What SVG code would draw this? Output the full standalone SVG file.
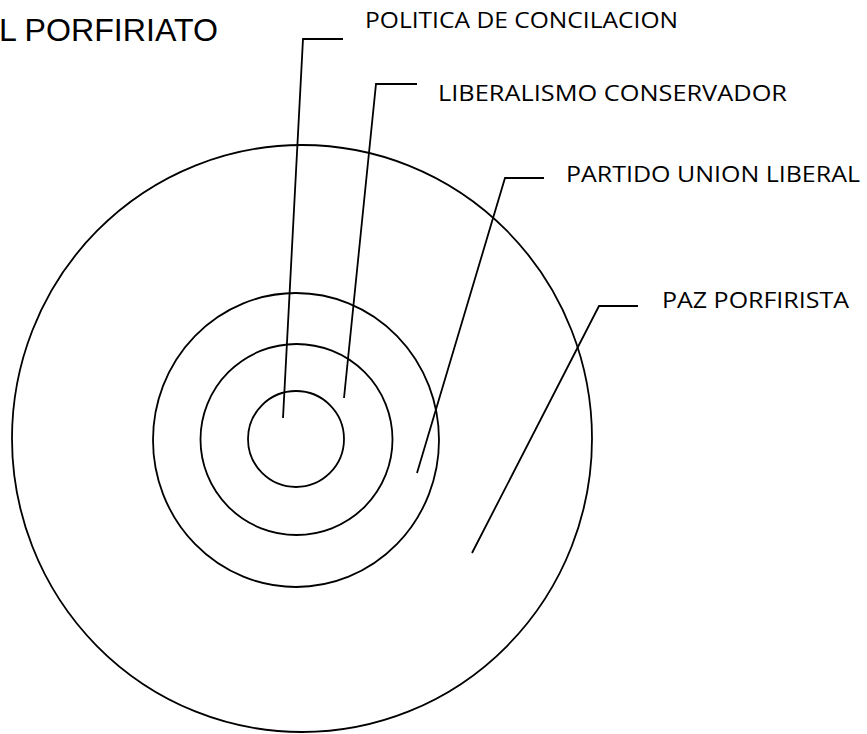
<svg xmlns="http://www.w3.org/2000/svg" width="867" height="734" viewBox="0 0 867 734">
<style>
.c{fill:none;stroke:#000;stroke-width:1.8}
.l{fill:none;stroke:#000;stroke-width:1.8}
.t{font-family:"Open Sans","Noto Sans",sans-serif;font-size:22.5px;fill:#000}
.h{font-family:"Liberation Sans",Arial,sans-serif;font-size:32px;fill:#000}
</style>
<rect width="867" height="734" fill="#fff"/>
<text class="h" x="-1" y="41" textLength="219" lengthAdjust="spacingAndGlyphs">L PORFIRIATO</text>
<g id="paz"><ellipse class="c" cx="302" cy="438.5" rx="290" ry="293.5"/></g>
<g id="partido"><ellipse class="c" cx="296" cy="440" rx="143" ry="147"/></g>
<g id="liberalismo"><ellipse class="c" cx="296.5" cy="439.5" rx="96" ry="95.5"/></g>
<g id="politica"><ellipse class="c" cx="296" cy="439" rx="48" ry="48"/></g>
<g id="connectors">
<polyline class="l" points="283,418 303,39 343,39"/>
<polyline class="l" points="344,398 376,84 417,84"/>
<polyline class="l" points="417,473 505,178 544,178"/>
<polyline class="l" points="472,553 599,306 638,306"/>
</g>
<g id="labels">
<text class="t" x="365" y="28" textLength="313" lengthAdjust="spacingAndGlyphs">POLITICA DE CONCILACION</text>
<text class="t" x="438" y="101" textLength="349" lengthAdjust="spacingAndGlyphs">LIBERALISMO CONSERVADOR</text>
<text class="t" x="566" y="182" textLength="294" lengthAdjust="spacingAndGlyphs">PARTIDO UNION LIBERAL</text>
<text class="t" x="662" y="308" textLength="187" lengthAdjust="spacingAndGlyphs">PAZ PORFIRISTA</text>
</g>
</svg>
